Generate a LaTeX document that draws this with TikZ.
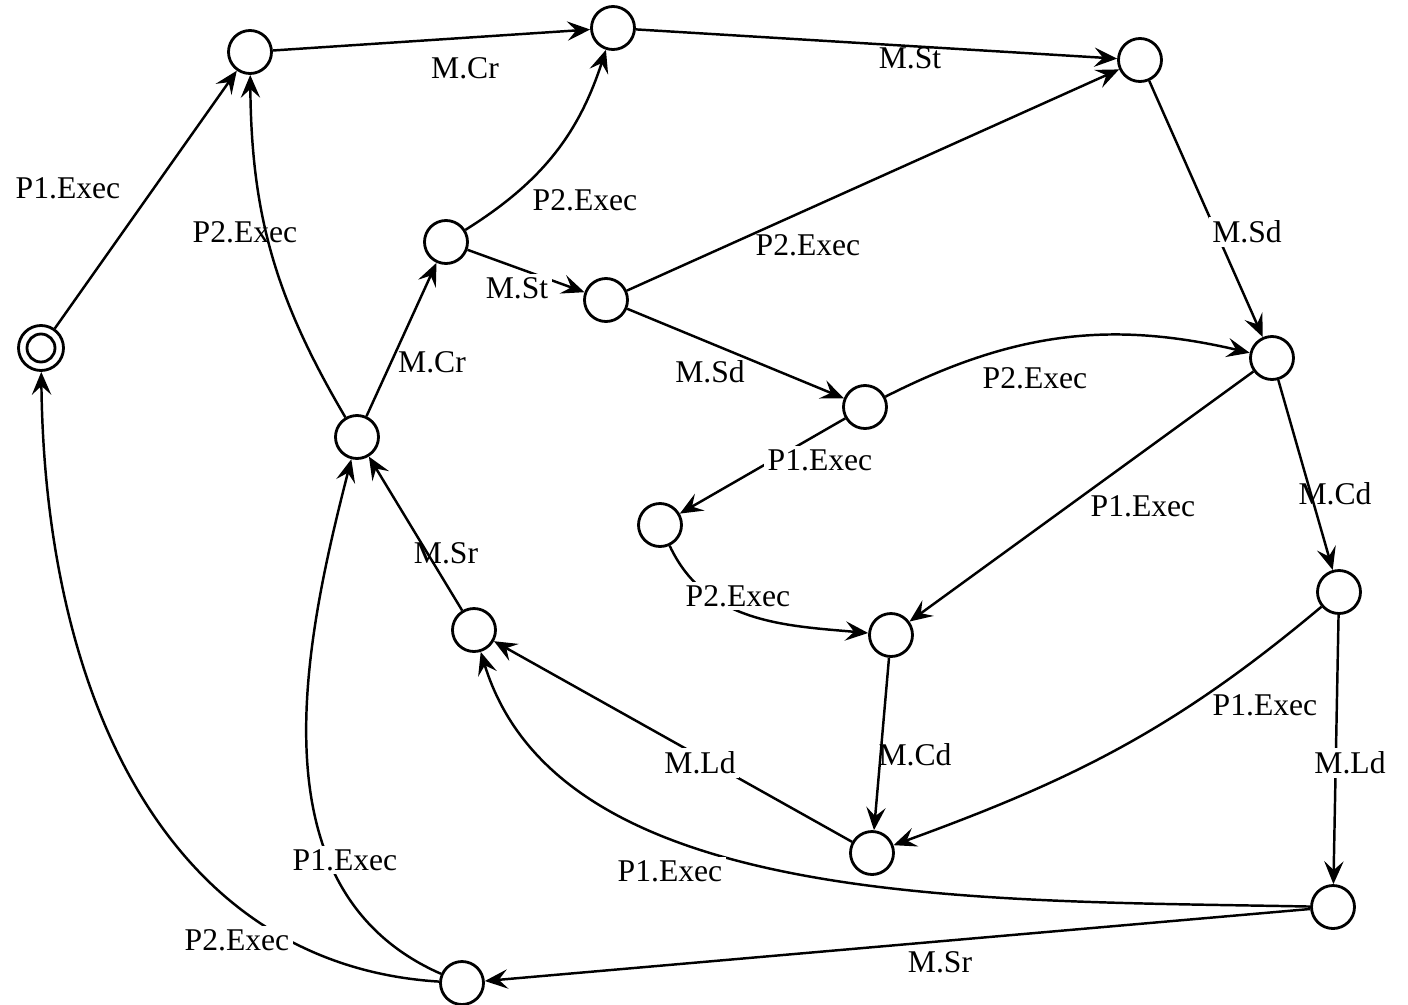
\documentclass[tikz,border=0pt]{standalone}
\usepackage{fontspec}
\setmainfont{Liberation Serif}
\usetikzlibrary{arrows.meta}

\begin{document}
\begin{tikzpicture}[
	state/.style={
		draw, circle, line width=0.8pt,
		minimum size=0.43cm, inner sep=0pt
	},
	lbl/.style={font=\fontsize{9}{11}\selectfont, inner sep=1pt},
	onl/.style={lbl, fill=white},
	arr/.style={-{Stealth[length=6.5pt, width=5.5pt, inset=2.5pt]}, line width=0.7pt},
	]
	\useasboundingbox (0,0) rectangle (14.08,-10.04);
	
	% States
	\node[state, minimum size=0.45cm] (q0) at (0.41,-3.48) {};
	\draw[line width=0.8pt] (q0) circle (0.14);
	\node[state] (q1)  at (2.50,-0.52) {};
	\node[state] (q2)  at (6.13,-0.28) {};
	\node[state] (q3)  at (11.40,-0.60) {};
	\node[state] (q4)  at (4.46,-2.42) {};
	\node[state] (q5)  at (6.06,-3.00) {};
	\node[state] (q6)  at (12.72,-3.58) {};
	\node[state] (q7)  at (8.65,-4.07) {};
	\node[state] (q8)  at (3.57,-4.37) {};
	\node[state] (q9)  at (6.60,-5.25) {};
	\node[state] (q10) at (13.39,-5.92) {};
	\node[state] (q11) at (4.74,-6.30) {};
	\node[state] (q12) at (8.91,-6.35) {};
	\node[state] (q13) at (8.72,-8.53) {};
	\node[state] (q14) at (13.33,-9.07) {};
	\node[state] (q15) at (4.62,-9.83) {};
	
	% Transitions, top part
	\draw[arr] (q0) -- (q1);
	\draw[arr] (q1) -- (q2);
	\draw[arr] (q2) -- (q3);
	\draw[arr] (q8) to[bend left=15] (q1);
	\draw[arr] (q4) to[bend right=20] (q2);
	\draw[arr] (q8) -- (q4);
	\draw[arr] (q4) -- (q5);
	\draw[arr] (q5) -- (q3);
	\draw[arr] (q3) -- (q6);
	\draw[arr] (q5) -- (q7);
	\draw[arr] (q7) to[bend left=20] (q6);
	
	% Transitions, middle part
	\draw[arr] (q7) -- (q9);
	\draw[arr] (q6) -- (q12);
	\draw[arr] (q6) -- (q10);
	\draw[arr] (q9) to[out=-65, in=175] (q12);
	\draw[arr] (q11) -- (q8);
	\draw[arr] (q12) -- (q13);
	\draw[arr] (q13) -- (q11);
	\draw[arr] (q10) to[out=-140, in=20] (q13);
	\draw[arr] (q10) -- (q14);
	
	% Transitions, bottom part
	\draw[arr] (q14) .. controls (9.8,-9.0) and (5.6,-9.1) .. (q11);
	\draw[arr] (q14) -- (q15);
	\draw[arr] (q15) .. controls (2.5,-8.9) and (3.05,-6.4) .. (q8);
	\draw[arr] (q15) .. controls (1.7,-9.65) and (0.45,-7.0) .. (q0);
	
	% Labels
	\node[lbl] (t01)   at (0.68,-1.88)  {P1.Exec};
	\node[lbl] (t12)   at (4.65,-0.68)  {M.Cr};
	\node[lbl] (t23)   at (9.10,-0.58)  {M.St};
	\node[lbl] (t81)   at (2.45,-2.32)  {P2.Exec};
	\node[lbl] (t42)   at (5.85,-2.00)  {P2.Exec};
	\node[lbl] (t84)   at (4.32,-3.62)  {M.Cr};
	\node[onl] (t45)   at (5.17,-2.88)  {M.St};
	\node[lbl] (t53)   at (8.08,-2.45)  {P2.Exec};
	\node[onl] (t36)   at (12.47,-2.32) {M.Sd};
	\node[lbl] (t57)   at (7.10,-3.72)  {M.Sd};
	\node[lbl] (t76)   at (10.35,-3.78) {P2.Exec};
	\node[onl] (t79)   at (8.20,-4.60)  {P1.Exec};
	\node[lbl] (t612)  at (11.43,-5.06) {P1.Exec};
	\node[lbl] (t610)  at (13.35,-4.94) {M.Cd};
	\node[onl] (t912)  at (7.38,-5.96)  {P2.Exec};
	\node[lbl] (t118)  at (4.46,-5.53)  {M.Sr};
	\node[lbl] (t1213) at (9.15,-7.55)  {M.Cd};
	\node[onl] (t1311) at (7.00,-7.63)  {M.Ld};
	\node[lbl] (t1013) at (12.65,-7.05) {P1.Exec};
	\node[onl] (t1014) at (13.50,-7.63) {M.Ld};
	\node[onl] (t1411) at (6.70,-8.71)  {P1.Exec};
	\node[lbl] (t1415) at (9.40,-9.62)  {M.Sr};
	\node[onl] (t158)  at (3.45,-8.60)  {P1.Exec};
	\node[onl] (t150)  at (2.37,-9.40)  {P2.Exec};
	
\end{tikzpicture}
\end{document}
